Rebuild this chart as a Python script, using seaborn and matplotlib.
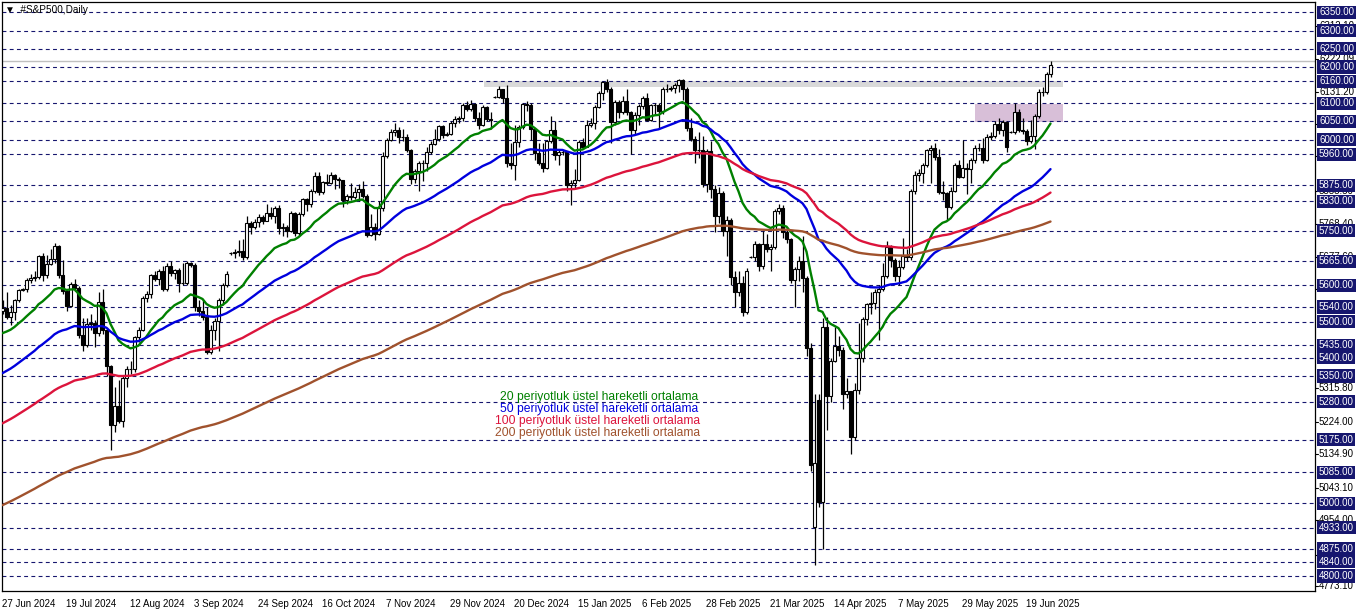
import numpy as np
import pandas as pd
import matplotlib
matplotlib.use("Agg")
import matplotlib.pyplot as plt
import matplotlib.transforms as mtransforms
import seaborn as sns

# ---- daily OHLC of #S&P500 (one row = 16 bars) ----
opens = [
    5530, 5536, 5513, 5525, 5559, 5586, 5588, 5615, 5619, 5622, 5679, 5629, 5659, 5673, 5708, 5629,
    5584, 5544, 5602, 5592, 5463, 5435, 5494, 5496, 5469, 5554, 5478, 5377, 5215, 5268, 5227, 5346,
    5370, 5369, 5458, 5478, 5566, 5576, 5628, 5616, 5640, 5589, 5652, 5632, 5641, 5607, 5606, 5661,
    5655, 5539, 5530, 5513, 5417, 5478, 5502, 5560, 5601, 5687, 5687, 5692, 5693, 5676, 5771, 5759,
    5773, 5787, 5776, 5798, 5790, 5813, 5758, 5759, 5748, 5799, 5742, 5796, 5837, 5824, 5858, 5901,
    5856, 5883, 5881, 5904, 5891, 5888, 5833, 5845, 5843, 5856, 5865, 5845, 5737, 5759, 5741, 5811,
    5956, 6000, 6022, 6026, 6008, 6008, 5972, 5892, 5913, 5936, 5936, 5967, 5987, 6003, 6037, 6013,
    6016, 6045, 6058, 6060, 6096, 6084, 6099, 6060, 6041, 6090, 6056, 6118, 6118, 6139, 6115, 5935,
    5930, 5993, 6034, 6099, 6095, 6028, 5962, 5936, 5922, 5995, 6026, 5959, 5967, 5965, 5875, 5882,
    5888, 5994, 5981, 6040, 6045, 6090, 6127, 6158, 6140, 6049, 6104, 6075, 6106, 6075, 6027, 6069,
    6092, 6114, 6055, 6094, 6095, 6078, 6140, 6139, 6142, 6151, 6165, 6138, 6033, 6001, 5972, 5972,
    5877, 5970, 5863, 5790, 5854, 5749, 5780, 5623, 5580, 5606, 5527, 5678, 5678, 5713, 5652, 5713,
    5700, 5704, 5803, 5812, 5747, 5727, 5615, 5644, 5665, 5620, 5428, 4935, 5285, 5005, 5486, 5296,
    5391, 5433, 5423, 5302, 5308, 5182, 5311, 5399, 5508, 5548, 5550, 5582, 5590, 5624, 5706, 5669,
    5625, 5649, 5681, 5677, 5860, 5902, 5907, 5931, 5972, 5976, 5953, 5857, 5854, 5814, 5860, 5931,
    5898, 5921, 5920, 5943, 5977, 5977, 5945, 6006, 6010, 6043, 6026, 6049, 6022, 6022, 6077, 6026,
    6024, 5995, 6009, 6065, 6132, 6131, 6180,
]
highs = [
    5560, 5582, 5545, 5562, 5590, 5592, 5620, 5630, 5638, 5682, 5688, 5682, 5700, 5716, 5710, 5668,
    5590, 5608, 5618, 5598, 5510, 5510, 5520, 5505, 5580, 5590, 5480, 5380, 5320, 5340, 5350, 5378,
    5392, 5460, 5485, 5570, 5585, 5630, 5640, 5645, 5652, 5662, 5665, 5645, 5648, 5660, 5665, 5664,
    5660, 5558, 5560, 5540, 5490, 5510, 5565, 5605, 5640, 5690, 5698, 5724, 5726, 5790, 5775, 5782,
    5795, 5792, 5822, 5815, 5818, 5820, 5772, 5765, 5805, 5802, 5800, 5840, 5840, 5865, 5910, 5912,
    5886, 5905, 5912, 5906, 5896, 5890, 5850, 5880, 5870, 5878, 5885, 5850, 5795, 5770, 5830, 5965,
    6005, 6030, 6045, 6035, 6030, 6015, 5975, 5920, 5940, 5945, 5980, 5995, 6030, 6040, 6040, 6022,
    6050, 6065, 6065, 6100, 6105, 6110, 6100, 6075, 6095, 6092, 6075, 6121, 6148, 6140, 6150, 5990,
    6040, 6040, 6102, 6105, 6100, 6030, 5990, 5990, 5998, 6065, 6050, 5975, 5972, 5968, 5888, 5920,
    6000, 6005, 6055, 6060, 6095, 6135, 6162, 6168, 6145, 6110, 6108, 6120, 6140, 6080, 6075, 6097,
    6120, 6128, 6098, 6100, 6100, 6145, 6152, 6148, 6155, 6168, 6168, 6145, 6060, 6010, 6020, 6010,
    5975, 5995, 5875, 5870, 5858, 5790, 5785, 5640, 5640, 5625, 5648, 5681, 5720, 5715, 5750, 5740,
    5712, 5810, 5822, 5820, 5760, 5730, 5650, 5680, 5735, 5625, 5440, 5300, 5300, 5510, 5513, 5400,
    5485, 5460, 5430, 5345, 5310, 5330, 5495, 5512, 5552, 5580, 5588, 5600, 5660, 5720, 5710, 5675,
    5670, 5730, 5700, 5865, 5915, 5920, 5935, 5975, 5985, 5990, 5975, 5885, 5855, 5870, 5935, 5945,
    6000, 5935, 5950, 5985, 5990, 6005, 6015, 6020, 6050, 6060, 6055, 6050, 6025, 6100, 6085, 6060,
    6030, 6055, 6070, 6140, 6145, 6185, 6215,
]
lows = [
    5522, 5508, 5490, 5505, 5555, 5583, 5580, 5605, 5612, 5618, 5610, 5620, 5655, 5662, 5620, 5575,
    5530, 5540, 5585, 5455, 5420, 5430, 5478, 5430, 5460, 5465, 5350, 5148, 5195, 5220, 5210, 5320,
    5355, 5360, 5445, 5475, 5555, 5565, 5610, 5600, 5585, 5585, 5625, 5618, 5580, 5600, 5600, 5650,
    5530, 5515, 5505, 5410, 5412, 5450, 5418, 5545, 5595, 5684, 5675, 5680, 5668, 5672, 5740, 5755,
    5760, 5768, 5775, 5782, 5772, 5740, 5735, 5732, 5745, 5735, 5738, 5790, 5805, 5815, 5852, 5848,
    5850, 5875, 5878, 5865, 5868, 5815, 5822, 5835, 5838, 5832, 5840, 5732, 5735, 5725, 5738, 5805,
    5950, 5995, 6010, 5992, 5995, 5965, 5878, 5880, 5860, 5885, 5915, 5960, 5985, 5995, 6005, 6010,
    6012, 6035, 6045, 6050, 6078, 6080, 6050, 6030, 6038, 6052, 6030, 6115, 6115, 6100, 5925, 5920,
    5890, 5980, 6030, 6080, 6000, 5945, 5930, 5910, 5920, 5990, 5945, 5930, 5958, 5860, 5820, 5865,
    5885, 5975, 5980, 6035, 6030, 6088, 6110, 6132, 5990, 6040, 6060, 6070, 6068, 5960, 6015, 6040,
    6085, 6050, 6052, 6070, 6030, 6070, 6130, 6135, 6128, 6130, 6110, 6025, 5995, 5935, 5950, 5870,
    5855, 5840, 5745, 5770, 5735, 5680, 5600, 5540, 5570, 5515, 5520, 5675, 5665, 5640, 5645, 5690,
    5640, 5700, 5795, 5730, 5715, 5605, 5540, 5610, 5580, 5405, 5090, 4830, 4990, 4874, 5203, 5280,
    5390, 5405, 5260, 5290, 5135, 5175, 5300, 5390, 5490, 5520, 5535, 5450, 5585, 5620, 5650, 5610,
    5600, 5645, 5665, 5670, 5850, 5885, 5880, 5925, 5880, 5945, 5850, 5835, 5780, 5810, 5855, 5895,
    5895, 5850, 5880, 5935, 5970, 5935, 5940, 6000, 6005, 6015, 6010, 5965, 6019, 6015, 6020, 6015,
    5985, 5990, 5975, 6060, 6120, 6125, 6172,
]
closes = [
    5536, 5513, 5525, 5559, 5586, 5588, 5615, 5619, 5622, 5679, 5629, 5659, 5673, 5708, 5629, 5584,
    5544, 5602, 5592, 5463, 5435, 5494, 5496, 5469, 5554, 5478, 5377, 5215, 5268, 5227, 5346, 5370,
    5369, 5458, 5478, 5566, 5576, 5628, 5616, 5640, 5589, 5652, 5632, 5641, 5607, 5606, 5661, 5655,
    5539, 5530, 5513, 5417, 5478, 5502, 5560, 5601, 5630, 5687, 5692, 5693, 5676, 5771, 5759, 5773,
    5787, 5776, 5798, 5790, 5813, 5758, 5759, 5748, 5799, 5742, 5796, 5837, 5824, 5858, 5901, 5856,
    5883, 5881, 5904, 5891, 5888, 5833, 5845, 5843, 5856, 5865, 5845, 5737, 5759, 5741, 5811, 5956,
    6000, 6022, 6026, 6008, 6008, 5972, 5892, 5913, 5936, 5936, 5967, 5987, 6003, 6037, 6013, 6016,
    6045, 6058, 6060, 6096, 6084, 6099, 6060, 6041, 6090, 6056, 6055, 6118, 6139, 6115, 5935, 5930,
    5993, 6034, 6099, 6095, 6028, 5962, 5936, 5922, 5995, 6026, 5959, 5967, 5965, 5875, 5882, 5888,
    5994, 5981, 6040, 6045, 6090, 6127, 6158, 6140, 6049, 6104, 6075, 6106, 6075, 6027, 6069, 6092,
    6114, 6055, 6094, 6095, 6078, 6140, 6139, 6142, 6151, 6165, 6138, 6033, 6001, 5972, 5972, 5877,
    5970, 5863, 5790, 5854, 5749, 5780, 5623, 5580, 5606, 5527, 5640, 5678, 5713, 5652, 5713, 5700,
    5704, 5803, 5812, 5747, 5727, 5615, 5644, 5665, 5620, 5428, 5105, 5110, 5005, 5486, 5296, 5391,
    5433, 5423, 5302, 5308, 5182, 5311, 5399, 5508, 5548, 5550, 5582, 5590, 5624, 5706, 5669, 5625,
    5649, 5681, 5677, 5860, 5902, 5907, 5931, 5972, 5976, 5953, 5857, 5854, 5814, 5860, 5931, 5898,
    5921, 5920, 5943, 5977, 5977, 5945, 6006, 6010, 6043, 6026, 6049, 5980, 6022, 6077, 6026, 6024,
    5995, 6009, 6065, 6132, 6131, 6180, 6205,
]

# EMA values at the first visible bar, periods and colours
ema_periods = [20, 50, 100, 200]
ema_start = [5468, 5358, 5220, 4995]
ema_colors = ["#008000", "#0000dd", "#dc143c", "#a0522d"]
ema_labels = ["20 periyotluk üstel hareketli ortalama",
              "50 periyotluk üstel hareketli ortalama",
              "100 periyotluk üstel hareketli ortalama",
              "200 periyotluk üstel hareketli ortalama"]

date_labels = ["27 Jun 2024", "19 Jul 2024", "12 Aug 2024", "3 Sep 2024", "24 Sep 2024",
               "16 Oct 2024", "7 Nov 2024", "29 Nov 2024", "20 Dec 2024", "15 Jan 2025",
               "6 Feb 2025", "28 Feb 2025", "21 Mar 2025", "14 Apr 2025", "7 May 2025",
               "29 May 2025", "19 Jun 2025"]

# horizontal levels drawn on the chart (boxed labels on the price scale)
levels = [6350, 6300, 6250, 6200, 6160, 6100, 6050, 6000, 5960, 5875, 5830, 5750, 5665,
          5600, 5540, 5500, 5435, 5400, 5350, 5280, 5175, 5085, 5000, 4933, 4875, 4840, 4800]
# plain price scale labels (several sit partly behind the level boxes, as on the chart)
scale_labels = [6312.10, 6222.09, 6131.20, 6042.10, 5956.30, 5858.50, 5768.40, 5677.60,
                5588.90, 5315.80, 5224.00, 5134.90, 5043.10, 4954.00, 4857.70, 4773.10]

# drawn zones: (first bar, last bar, low, high)
gray_zone = (120.4, 265.0, 6145, 6162)
purple_zone = (243.1, 265.0, 6048, 6097)
bid_price = 6217

df = pd.DataFrame({"open": opens, "high": highs, "low": lows, "close": closes})
df["bar"] = np.arange(len(df))

for p, s0 in zip(ema_periods, ema_start):
    src = df["close"].astype(float).copy()
    src.iloc[0] = s0
    df[f"EMA {p}"] = src.ewm(span=p, adjust=False).mean()

long = df.melt(id_vars="bar", value_vars=[f"EMA {p}" for p in ema_periods],
               var_name="ema", value_name="value")

sns.set_style("white")
plt.rcParams["font.family"] = ["Liberation Sans", "DejaVu Sans"]

W, H = 1362, 611
fig = plt.figure(figsize=(W / 100, H / 100), dpi=100)
ax = fig.add_axes([2 / W, (H - 591) / H, 1313 / W, 589 / H])
ax.set_xlim(-0.125, 328.125)
ax.set_ylim(4758.9, 6378.6)

navy = "#16166e"
for lv in levels:
    ax.axhline(lv, color=navy, lw=0.8, ls=(0, (3.5, 3)), zorder=1)
ax.axhline(bid_price, color="#c0c0c0", lw=1.0, zorder=1)

ax.fill_between([gray_zone[0], gray_zone[1]], gray_zone[2], gray_zone[3],
                color="#d9d9d9", lw=0, zorder=0.5)
ax.fill_between([purple_zone[0], purple_zone[1]], purple_zone[2], purple_zone[3],
                color="#d8bfd8", lw=0, zorder=0.5)

# candles
up = df["close"] >= df["open"]
ax.vlines(df["bar"], df["low"], df["high"], color="black", lw=0.9, zorder=3)
ax.bar(df["bar"][up], (df["close"] - df["open"])[up], bottom=df["open"][up], width=0.6,
       facecolor="white", edgecolor="black", lw=0.8, zorder=4)
ax.bar(df["bar"][~up], (df["close"] - df["open"])[~up], bottom=df["open"][~up], width=0.6,
       facecolor="black", edgecolor="black", lw=0.8, zorder=4)

# moving averages
sns.lineplot(data=long, x="bar", y="value", hue="ema", palette=ema_colors,
             linewidth=1.7, legend=False, ax=ax, zorder=5)

# legend texts in the middle of the chart
leg_x = [500, 500, 495, 495]
leg_y = [397, 409, 421, 433]
for txt, col, lx, ly in zip(ema_labels, ema_colors, leg_x, leg_y):
    fig.text(lx / W, 1 - ly / H, txt, color=col, fontsize=8.7, va="center", ha="left")

# price scale on the right
trans = mtransforms.blended_transform_factory(ax.transAxes, ax.transData)
lab_x = 1.0 + 4 / 1313
for v in scale_labels:
    ax.text(lab_x, v, f"{v:.2f}", transform=trans, fontsize=7, color="black",
            va="center", ha="left", zorder=6, clip_on=False)
    ax.plot([1.0, 1.0 + 3 / 1313], [v, v], transform=trans, color="black", lw=0.8,
            clip_on=False)
for lv in levels:
    ax.text(lab_x, lv, f"{lv:.2f}", transform=trans, fontsize=7, color="white",
            va="center", ha="left", zorder=7, clip_on=False,
            bbox=dict(boxstyle="square,pad=0.16", fc=navy, ec="none"))

# date axis
ax.set_xticks(np.arange(0, 16 * len(date_labels), 16))
ax.set_xticklabels(date_labels, fontsize=7, ha="left")
ax.tick_params(axis="x", direction="out", length=4, width=0.8, pad=1.5, colors="black")
ax.set_yticks([])
ax.set_xlabel("")
ax.set_ylabel("")
for sp in ax.spines.values():
    sp.set_color("black")
    sp.set_linewidth(0.9)

fig.text(5 / W, 1 - 10 / H, "▼ .#S&P500,Daily", fontsize=7.2, color="black",
         va="center", ha="left")

fig.savefig("out.png", dpi=100, facecolor="white")
